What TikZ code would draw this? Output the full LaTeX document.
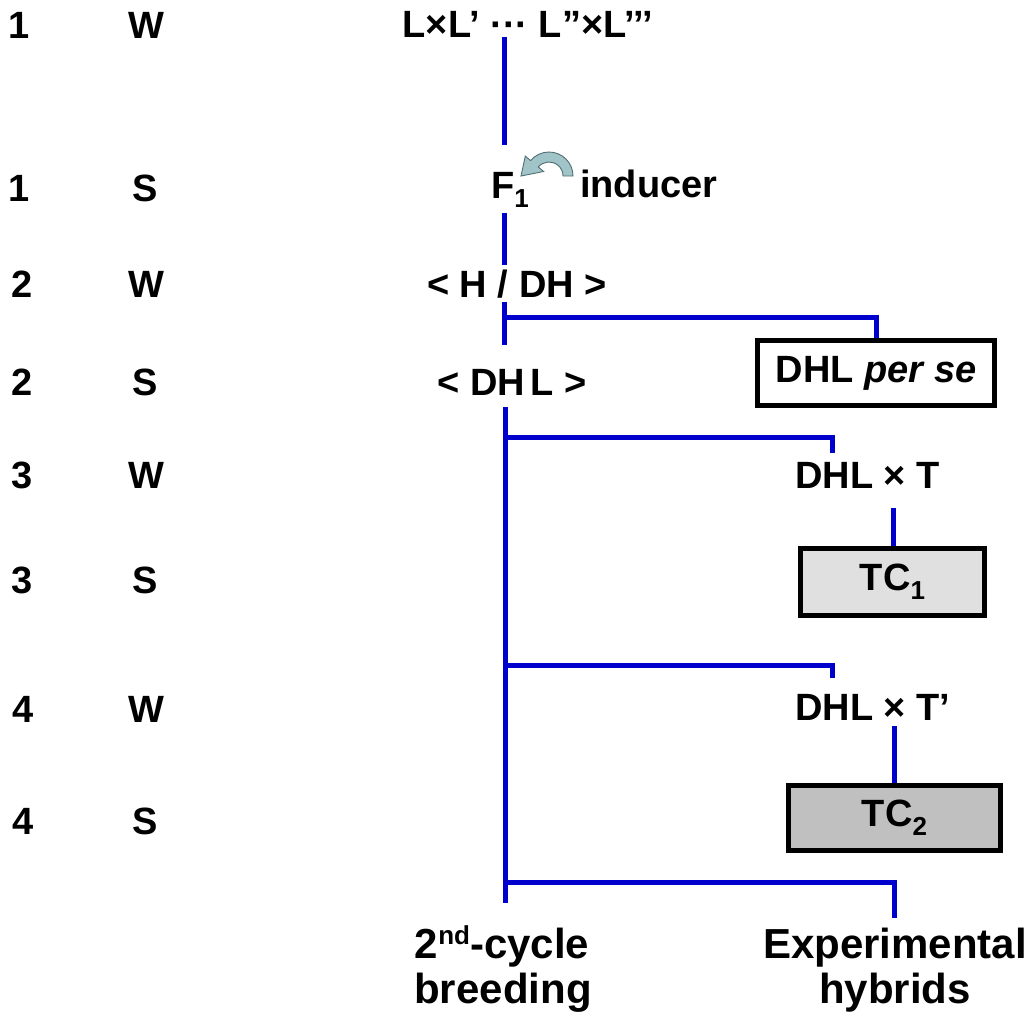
\documentclass[tikz,border=0pt]{standalone}
\usepackage{fontspec}
\setmainfont{Liberation Sans}
\definecolor{linkblue}{RGB}{0,0,204}
\definecolor{tcone}{RGB}{224,224,224}
\definecolor{tctwo}{RGB}{192,192,192}
\definecolor{cyclefill}{RGB}{160,196,200}
\definecolor{cycleedge}{RGB}{80,110,115}
\newcommand{\lblfont}{\bfseries\fontsize{38}{44}\selectfont}
\newcommand{\tailfont}{\bfseries\fontsize{42}{46}\selectfont}
\newcommand{\lowsub}[1]{\raisebox{-9pt}{\fontsize{26}{26}\selectfont #1}}
\begin{document}
\begin{tikzpicture}[x=1pt,y=-1pt,
  txt/.style={inner sep=0pt,anchor=base,font=\lblfont},
  link/.style={draw=linkblue,line width=5pt},
  outbox/.style={draw=black,line width=5pt,inner sep=0pt,font=\lblfont,
    minimum width=#1,minimum height=65pt},
  tail/.style={inner sep=0pt,anchor=base,font=\tailfont}]
\useasboundingbox (0,0) rectangle (1031,1015);

% generation and season column
\node[txt] (g1) at (19,38) {1};   \node[txt] (s1) at (146,38) {W};
\node[txt] (g2) at (19,201) {1};  \node[txt] (s2) at (145,201) {S};
\node[txt] (g3) at (22,297) {2};  \node[txt] (s3) at (146,297) {W};
\node[txt] (g4) at (22,395) {2};  \node[txt] (s4) at (145,395) {S};
\node[txt] (g5) at (22,488) {3};  \node[txt] (s5) at (146,488) {W};
\node[txt] (g6) at (22,593) {3};  \node[txt] (s6) at (145,593) {S};
\node[txt] (g7) at (23,722) {4};  \node[txt] (s7) at (146,722) {W};
\node[txt] (g8) at (23,834) {4};  \node[txt] (s8) at (145,834) {S};

% breeding scheme
\node[txt] (cross) at (528,37) {L×L’ ··· L”×L’’’};
\node[txt,anchor=base west] (fone) at (491,198) {F\lowsub{1}};
\node[txt,anchor=base west] (ind) at (580,197) {inducer};
\node[txt] (hdh) at (517,297) {< H / DH >};
\node[txt] (dhl) at (512,395) {< DH\kern5pt L >};
\node[outbox=237pt] (perse) at (876,373) {DHL \textit{per se}};
\node[txt,anchor=base west] (tx1) at (795,488) {DHL × T};
\node[outbox=184pt,minimum height=67pt,fill=tcone] (tc1) at (892.5,582) {TC\lowsub{1}};
\node[txt,anchor=base west] (tx2) at (795,720) {DHL × T’};
\node[outbox=212pt,fill=tctwo] (tc2) at (894.5,818) {TC\lowsub{2}};
\node[tail] (sec1) at (502,958) {2\raisebox{14pt}{\fontsize{26}{26}\selectfont nd}-cycle};
\node[tail] (sec2) at (503,1003) {breeding};
\node[tail] (exp1) at (895,958) {Experimental};
\node[tail] (exp2) at (895,1003) {hybrids};

% inducer loop arrow
\draw[fill=cyclefill,draw=cycleedge,line width=0.9pt,line join=miter]
  (573,176) arc[start angle=0,end angle=140,radius=24pt]
  -- (525.3,156.1) -- (521,176) -- (543.6,171.5) -- (538.3,167)
  arc[start angle=140,end angle=0,radius=14pt] -- cycle;

% points on the main stem
\coordinate (a1) at (504,37);   \coordinate (a2) at (504,145);
\coordinate (b1) at (504,213);  \coordinate (b2) at (504,265);
\coordinate (c1) at (504,302);  \coordinate (c2) at (504,345);
\coordinate (cb) at (504,317);
\coordinate (d1) at (505,407);  \coordinate (d2) at (505,903);
\coordinate (e1) at (505,437);  \coordinate (e2) at (832,453);
\coordinate (f1) at (505,665);  \coordinate (f2) at (832,678);
\coordinate (h1) at (505,882);  \coordinate (h2) at (894,918);
\coordinate (t1) at (893,508);  \coordinate (t2) at (894,726);

\draw[link] (a1) -- (a2);
\draw[link] (b1) -- (b2);
\draw[link] (c1) -- (c2);
\draw[link] (cb) -| (perse.north);
\draw[link] (d1) -- (d2);
\draw[link] (e1) -| (e2);
\draw[link] (f1) -| (f2);
\draw[link] (h1) -| (h2);
\draw[link] (t1) -- (t1 |- tc1.north);
\draw[link] (t2) -- (t2 |- tc2.north);
\end{tikzpicture}
\end{document}
